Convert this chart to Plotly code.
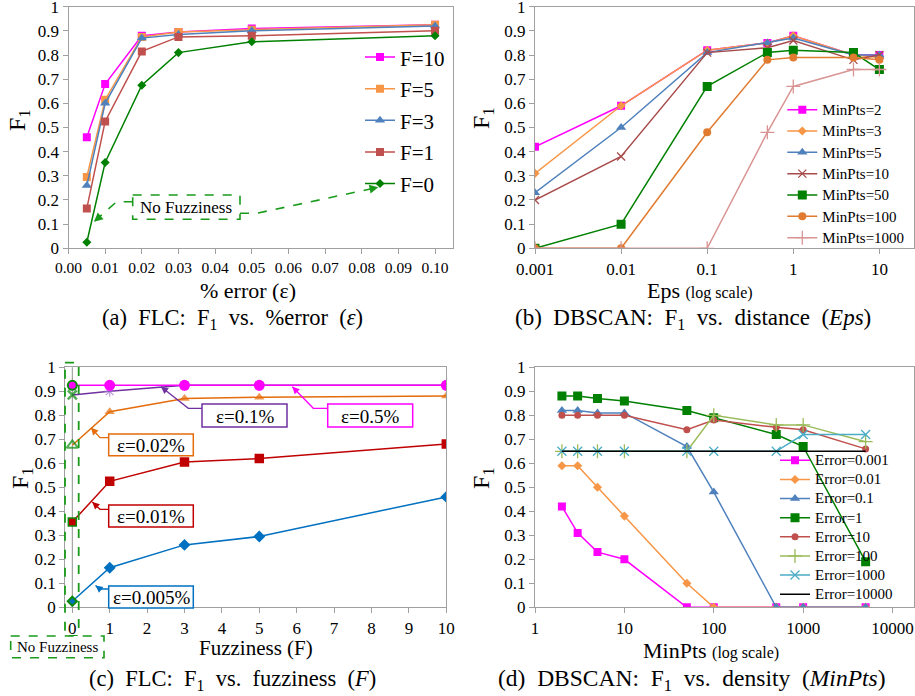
import plotly.graph_objects as go

# ---------------- data ----------------
# (a) FLC: F1 vs %error
a_eps = [0.005, 0.01, 0.02, 0.03, 0.05, 0.10]
a_F10 = [0.46, 0.68, 0.88, 0.895, 0.91, 0.925]
a_F5 = [0.295, 0.615, 0.875, 0.895, 0.905, 0.925]
a_F3 = [0.26, 0.60, 0.87, 0.885, 0.90, 0.92]
a_F1 = [0.165, 0.525, 0.815, 0.875, 0.88, 0.90]
a_F0 = [0.025, 0.355, 0.675, 0.81, 0.855, 0.88]

# (b) DBSCAN: F1 vs Eps
b_eps = [0.001, 0.01, 0.1, 0.5, 1, 5, 10]
b_m2 = [0.42, 0.59, 0.82, 0.85, 0.88, 0.80, 0.80]
b_m3 = [0.31, 0.59, 0.82, 0.85, 0.88, 0.80, 0.79]
b_m5 = [0.23, 0.50, 0.81, 0.85, 0.87, 0.80, 0.80]
b_m10 = [0.20, 0.38, 0.81, 0.83, 0.86, 0.78, 0.80]
b_m50 = [0.00, 0.10, 0.67, 0.81, 0.82, 0.81, 0.74]
b_m100 = [0.00, 0.00, 0.48, 0.78, 0.79, 0.79, 0.78]
b_m1000 = [0.00, 0.00, 0.00, 0.48, 0.67, 0.74, 0.74]

# (c) FLC: F1 vs fuzziness
c_F = [0, 1, 3, 5, 10]
c_e0005 = [0.025, 0.165, 0.26, 0.295, 0.46]
c_e001 = [0.355, 0.525, 0.605, 0.62, 0.68]
c_e002 = [0.675, 0.815, 0.87, 0.875, 0.88]
c_e01 = [0.885, 0.90, 0.925, 0.925, 0.925]
c_e05 = [0.925, 0.925, 0.925, 0.925, 0.925]

# (d) DBSCAN: F1 vs MinPts
d_minpts = [2, 3, 5, 10, 50, 100, 500, 1000, 5000]
d_e0001 = [0.42, 0.31, 0.23, 0.20, 0.00, 0.00, 0.00, 0.00, 0.00]
d_e001 = [0.59, 0.59, 0.50, 0.38, 0.10, 0.00, 0.00, 0.00, 0.00]
d_e01 = [0.82, 0.82, 0.81, 0.81, 0.67, 0.48, 0.00, 0.00, 0.00]
d_e1 = [0.88, 0.88, 0.87, 0.86, 0.82, 0.79, 0.72, 0.67, 0.19]
d_e10 = [0.80, 0.80, 0.80, 0.80, 0.74, 0.78, 0.75, 0.74, 0.66]
d_e100 = [0.65, 0.65, 0.65, 0.65, 0.65, 0.80, 0.76, 0.76, 0.69]
d_e1000 = [0.65, 0.65, 0.65, 0.65, 0.65, 0.65, 0.65, 0.72, 0.72]
d_e10000 = [0.65, 0.65, 0.65, 0.65, 0.65, 0.65, 0.65, 0.65, 0.65]

y_ticks = [0, 0.1, 0.2, 0.3, 0.4, 0.5, 0.6, 0.7, 0.8, 0.9, 1]
log_ticks_b = [0.001, 0.01, 0.1, 1, 10]
log_ticks_d = [1, 10, 100, 1000, 10000]

# ---------------- helpers ----------------
W, H = 915, 696
SERIF = "'Liberation Serif', 'Times New Roman', Times, serif"


def PX(x):
    return x / W


def PY(y):
    return 1 - y / H


fig = go.Figure()
LEG_TEXT = {"legend": 21, "legend2": 15, "legend4": 15}


def add(x, y, name, color, symbol, xa, ya, legend=None, size=8, mlc=None, mlw=0,
        lw=1.5, show=True, mode="lines+markers"):
    label = name
    if legend in LEG_TEXT:
        label = f"<span style='font-size:{LEG_TEXT[legend]}px'>{name}</span>"
    fig.add_trace(go.Scatter(
        x=x, y=y, name=label, mode=mode, xaxis=xa, yaxis=ya,
        legend=legend, showlegend=show,
        line=dict(color=color, width=lw),
        marker=dict(symbol=symbol, size=size, color=color,
                    line=dict(color=mlc if mlc is not None else color, width=mlw)),
    ))


# (a)
add(a_eps, a_F10, "F=10", "#FF00FF", "square", "x", "y", "legend")
add(a_eps, a_F5, "F=5", "#F79646", "square", "x", "y", "legend")
add(a_eps, a_F3, "F=3", "#4F81BD", "triangle-up", "x", "y", "legend", size=9)
add(a_eps, a_F1, "F=1", "#C0504D", "square", "x", "y", "legend")
add(a_eps, a_F0, "F=0", "#008000", "diamond", "x", "y", "legend", size=7)

# (b)
add(b_eps, b_m2, "MinPts=2", "#FF00FF", "square", "x2", "y2", "legend2")
add(b_eps, b_m3, "MinPts=3", "#F79646", "diamond", "x2", "y2", "legend2", size=7)
add(b_eps, b_m5, "MinPts=5", "#4F81BD", "triangle-up", "x2", "y2", "legend2", size=9)
add(b_eps, b_m10, "MinPts=10", "#A84B4B", "x-thin", "x2", "y2", "legend2", mlw=1.3)
add(b_eps, b_m50, "MinPts=50", "#008000", "square", "x2", "y2", "legend2", size=9)
add(b_eps, b_m100, "MinPts=100", "#E07B30", "circle", "x2", "y2", "legend2")
add(b_eps, b_m1000, "MinPts=1000", "#D99594", "cross-thin", "x2", "y2", "legend2", size=10, mlw=1.3)

# (c)  first point (F=0, no fuzziness) highlighted in green
G = "#0A8A0A"
add(c_F, c_e0005, "ε=0.005%", "#0070C0", "diamond", "x3", "y3", show=False, size=7,
    mlc=[G, "#0070C0", "#0070C0", "#0070C0", "#0070C0"], mlw=2)
add(c_F, c_e001, "ε=0.01%", "#C00000", "square", "x3", "y3", show=False, size=8,
    mlc=[G, "#C00000", "#C00000", "#C00000", "#C00000"], mlw=1.5)
fig.add_trace(go.Scatter(
    x=c_F, y=c_e002, name="ε=0.02%", mode="lines+markers", xaxis="x3", yaxis="y3", showlegend=False,
    line=dict(color="#E46C0A", width=1.5),
    marker=dict(symbol=["triangle-up-open", "triangle-up", "triangle-up", "triangle-up", "triangle-up"],
                size=[10, 9, 9, 9, 9], color=[G, "#E46C0A", "#E46C0A", "#E46C0A", "#E46C0A"],
                line=dict(width=[2, 0, 0, 0, 0], color=G))))
fig.add_trace(go.Scatter(
    x=c_F, y=c_e01, name="ε=0.1%", mode="lines+markers", xaxis="x3", yaxis="y3", showlegend=False,
    line=dict(color="#7030A0", width=1.5),
    marker=dict(symbol=["x-thin", "asterisk", "asterisk", "asterisk", "asterisk"], size=[9, 9, 9, 9, 9],
                color="#7030A0",
                line=dict(width=[2.5, 1.2, 1.2, 1.2, 1.2], color=[G, "#A070D0", "#7030A0", "#7030A0", "#7030A0"]))))
add(c_F, c_e05, "ε=0.5%", "#FF00FF", "circle", "x3", "y3", show=False, size=9,
    mlc=[G, "#FF00FF", "#FF00FF", "#FF00FF", "#FF00FF"], mlw=2)

# (d)
add(d_minpts, d_e0001, "Error=0.001", "#FF00FF", "square", "x4", "y4", "legend4")
add(d_minpts, d_e001, "Error=0.01", "#F79646", "diamond", "x4", "y4", "legend4", size=7)
add(d_minpts, d_e01, "Error=0.1", "#4F81BD", "triangle-up", "x4", "y4", "legend4", size=9)
add(d_minpts, d_e1, "Error=1", "#008000", "square", "x4", "y4", "legend4", size=9)
add(d_minpts, d_e10, "Error=10", "#C0504D", "circle", "x4", "y4", "legend4", size=7)
add(d_minpts, d_e100, "Error=100", "#9BBB59", "cross-thin", "x4", "y4", "legend4", size=10, mlw=1.3)
add(d_minpts, d_e1000, "Error=1000", "#4BACC6", "x-thin", "x4", "y4", "legend4", size=9, mlw=1.3)
add(d_minpts, d_e10000, "Error=10000", "#000000", "circle", "x4", "y4", "legend4", mode="lines")

# ---------------- axes ----------------
LC = "#A0A0A0"
TF = dict(family=SERIF, size=17, color="black")


def ax(domain, **kw):
    d = dict(domain=domain, showline=True, linecolor=LC, linewidth=1, mirror=True,
             ticks="outside", ticklen=5, tickcolor=LC, showgrid=False, zeroline=False,
             tickfont=TF, automargin=False, ticklabeloverflow="allow")
    d.update(kw)
    return d


ydomA = [PY(248.3), PY(6.7)]
ydomC = [PY(607.3), PY(367.3)]

fig.update_layout(
    width=W, height=H, margin=dict(l=0, r=0, t=0, b=0, pad=0, autoexpand=False),
    paper_bgcolor="white", plot_bgcolor="white",
    font=dict(family=SERIF, color="black"),
    xaxis=ax([PX(68.5), PX(453)], range=[0, 0.1049], dtick=0.01, tick0=0, tickformat=".2f", anchor="y",
             tickfont=dict(family=SERIF, size=15.5, color="black")),
    yaxis=ax(ydomA, range=[0, 1], tickvals=y_ticks, anchor="x"),
    xaxis2=ax([PX(535), PX(914)], type="log", range=[-3, 1.402], tickvals=log_ticks_b,
              ticktext=["0.001", "0.01", "0.1", "1", "10"], anchor="y2"),
    yaxis2=ax(ydomA, range=[0, 1], tickvals=y_ticks, anchor="x2"),
    xaxis3=ax([PX(65.2), PX(446.3)], range=[-0.19, 10.0], dtick=1, tick0=0, anchor="y3"),
    yaxis3=ax(ydomC, range=[0, 1], tickvals=y_ticks, anchor="x3"),
    xaxis4=ax([PX(535), PX(914)], type="log", range=[0, 4.24], tickvals=log_ticks_d,
              ticktext=["1", "10", "100", "1000", "10000"], anchor="y4"),
    yaxis4=ax(ydomC, range=[0, 1], tickvals=y_ticks, anchor="x4"),
    legend=dict(x=PX(360), y=PY(36.3), xanchor="left", yanchor="top", bgcolor="rgba(0,0,0,0)",
                font=dict(family=SERIF, size=22), tracegroupgap=0),
    legend2=dict(x=PX(782.3), y=PY(94), xanchor="left", yanchor="top", bgcolor="rgba(0,0,0,0)",
                 font=dict(family=SERIF, size=14.1), tracegroupgap=0),
    legend4=dict(x=PX(775), y=PY(445.8), xanchor="left", yanchor="top", bgcolor="rgba(0,0,0,0)",
                 font=dict(family=SERIF, size=12.4), tracegroupgap=0),
)

# ---------------- text: axis titles and captions ----------------
ann = []


def text(x, y, t, size, angle=0, family=SERIF, color="black"):
    ann.append(dict(x=PX(x), y=PY(y), xref="paper", yref="paper", text=t, showarrow=False,
                    font=dict(family=family, size=size, color=color), textangle=angle,
                    xanchor="center", yanchor="middle"))


for (x, y) in [(19, 120), (483, 118), (22, 478), (483, 478)]:
    text(x, y, "F<sub>1</sub>", 24, angle=-90)

text(248, 290, "% error (ε)", 22)
text(700, 290, "Eps <span style='font-size:16px'>(log scale)</span>", 22)
text(256, 648, "Fuzziness (F)", 21)
text(711, 650, "MinPts <span style='font-size:16px'>(log scale)</span>", 22)

SP = "\u2002"  # wider word spacing, as in the typeset captions
text(232, 319, SP.join(["(a)", "FLC:", "F<sub>1</sub>", "vs.", "%error", "(<i>ε</i>)"]), 22.5)
text(693, 319, SP.join(["(b)", "DBSCAN:", "F<sub>1</sub>", "vs.", "distance", "(<i>Eps</i>)"]), 23)
text(232, 680, SP.join(["(c)", "FLC:", "F<sub>1</sub>", "vs.", "fuzziness", "(<i>F</i>)"]), 22.5)
text(692, 680, SP.join(["(d)", "DBSCAN:", "F<sub>1</sub>", "vs.", "density", "(<i>MinPts</i>)"]), 23.5)

# ---------------- callouts ----------------
shapes = []


def poly(points, color, dash="solid", width=1.3):
    p = "M " + " L ".join(f"{PX(x)},{PY(y)}" for x, y in points)
    shapes.append(dict(type="path", path=p, xref="paper", yref="paper",
                       line=dict(color=color, width=width, dash=dash), layer="above"))
    (x0, y0), (x1, y1) = points[-2], points[-1]
    dx, dy = x0 - x1, y0 - y1
    n = (dx * dx + dy * dy) ** 0.5
    L = 9
    ann.append(dict(x=PX(x1), y=PY(y1), xref="paper", yref="paper", text="", showarrow=True,
                    ax=dx / n * L, ay=dy / n * L, arrowhead=2, arrowsize=1.1, arrowwidth=width,
                    arrowcolor=color, standoff=0))


def rect(x0, y0, x1, y1, color, dash="solid", width=1.3, fill="white"):
    shapes.append(dict(type="rect", x0=PX(x0), x1=PX(x1), y0=PY(y0), y1=PY(y1),
                       xref="paper", yref="paper", line=dict(color=color, width=width, dash=dash),
                       fillcolor=fill, layer="above"))


GD = "#1A9A1A"
# panel (a) "No Fuzziness"
rect(132.7, 195, 240, 219.3, GD, dash="dash", width=1.6)
text(186.3, 207.5, "No Fuzziness", 17)
poly([(132.7, 201.7), (116.7, 201.7), (94, 221.7)], GD, dash="dash", width=1.6)
poly([(240, 213.3), (256.7, 213.3), (378.3, 187.3)], GD, dash="dash", width=1.6)

# panel (c) highlight of F=0
rect(65, 362.7, 78.7, 636, GD, dash="dash", width=1.8, fill="rgba(0,0,0,0)")
rect(10.7, 636, 104, 657.7, GD, dash="dash", width=1.6)
text(57.3, 647, "No Fuzziness", 15)
# vertical line at F=0
shapes.append(dict(type="line", x0=0, x1=0, y0=0, y1=1, xref="x3", yref="y3 domain",
                   line=dict(color="#909090", width=1), layer="below"))

callouts = [
    ((202, 404, 287, 427), "ε=0.1%", "#7030A0", [(202, 408.3), (188.3, 408.3), (161, 386.7)]),
    ((327.7, 404, 412.7, 427), "ε=0.5%", "#FF00FF", [(327.7, 408.3), (313.3, 408.3), (292.3, 386.7)]),
    ((108.7, 434, 193.3, 455.7), "ε=0.02%", "#E46C0A", [(108.7, 437.7), (100, 437.7), (91, 427.7)]),
    ((108.7, 505, 193.3, 527), "ε=0.01%", "#C00000", [(108.7, 509.3), (100, 509.3), (92.3, 502)]),
    ((108.7, 586, 193.3, 608), "ε=0.005%", "#0070C0", [(108.7, 589), (100, 589), (95.5, 585.5)]),
]
for (x0, y0, x1, y1), t, col, pts in callouts:
    poly(pts, col, width=1.3)
    rect(x0, y0, x1, y1, col, width=1.5)
    text((x0 + x1) / 2, (y0 + y1) / 2 + 0.5, t, 19)

fig.update_layout(annotations=ann, shapes=shapes)
# remove the browser's default 8px page margin so the 915x696 figure fills the window exactly
fig.write_html("out.html", config={"displayModeBar": False},
               post_script="document.body.style.margin='0px';")
